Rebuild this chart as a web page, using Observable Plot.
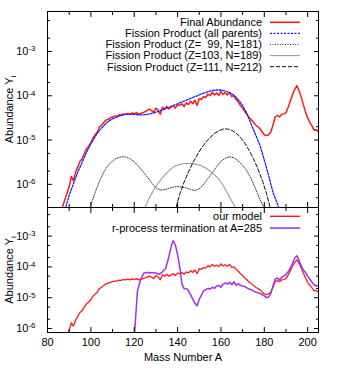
<!DOCTYPE html>
<html><head><meta charset="utf-8">
<script src="https://cdn.jsdelivr.net/npm/d3@7"></script>
<script src="https://cdn.jsdelivr.net/npm/@observablehq/plot@0.6"></script>
<style>body{margin:0;background:#fff;} #chart svg{display:block;}</style>
</head><body><div id="chart"></div>
<script>
// [mass number A, log10 abundance]
const finalAbundance = [
[87,-6.50],[88,-6.35],[89,-6.20],[90,-6.05],[91,-5.82],[92,-5.92],[93,-5.72],[94,-5.60],[95,-5.48],[96,-5.42],[97,-5.30],[98,-5.20],[99,-5.14],[100,-5.06],[101,-4.95],[102,-4.88],[103,-4.82],[104,-4.70],[105,-4.66],[106,-4.60],[107,-4.55],[108,-4.53],[109,-4.50],[110,-4.48],[111,-4.46],[112,-4.46],[113,-4.43],[114,-4.44],[115,-4.41],[116,-4.42],[117,-4.40],[118,-4.42],[119,-4.39],[120,-4.41],[121,-4.38],[122,-4.42],[123,-4.40],[124,-4.38],[125,-4.36],[126,-4.33],[127,-4.30],[128,-4.33],[129,-4.38],[130,-4.28],[131,-4.32],[132,-4.42],[133,-4.26],[134,-4.30],[135,-4.24],[136,-4.30],[137,-4.26],[138,-4.22],[139,-4.28],[140,-4.20],[141,-4.22],[142,-4.18],[143,-4.24],[144,-4.16],[145,-4.20],[146,-4.12],[147,-4.18],[148,-4.10],[149,-4.22],[150,-4.06],[151,-4.08],[152,-4.02],[153,-4.04],[154,-3.96],[155,-4.00],[156,-3.92],[157,-3.98],[158,-3.94],[159,-3.99],[160,-3.90],[161,-3.97],[162,-3.93],[163,-3.98],[164,-3.92],[165,-4.02],[166,-4.00],[167,-4.08],[168,-4.14],[169,-4.22],[170,-4.28],[171,-4.36],[172,-4.42],[173,-4.50],[174,-4.54],[175,-4.60],[176,-4.66],[177,-4.70],[178,-4.74],[179,-4.82],[180,-4.88],[181,-4.90],[182,-4.88],[183,-4.82],[184,-4.66],[185,-4.48],[186,-4.44],[187,-4.48],[188,-4.42],[189,-4.41],[190,-4.38],[191,-4.26],[192,-4.12],[193,-3.98],[194,-3.86],[195,-3.77],[196,-3.88],[197,-4.02],[198,-4.20],[199,-4.36],[200,-4.50],[201,-4.60],[202,-4.68],[203,-4.78],[204,-4.76],[205,-4.82]
];
const fissionAll = [
[88.5,-6.51],[90,-6.25],[92,-5.98],[94,-5.72],[96,-5.50],[98,-5.28],[100,-5.08],[102,-4.92],[104,-4.78],[106,-4.67],[108,-4.58],[110,-4.52],[112,-4.48],[114,-4.44],[116,-4.42],[118,-4.42],[120,-4.42],[122,-4.43],[124,-4.43],[126,-4.42],[128,-4.40],[130,-4.37],[132,-4.34],[134,-4.30],[136,-4.26],[138,-4.22],[140,-4.18],[142,-4.14],[144,-4.10],[146,-4.06],[148,-4.02],[150,-3.98],[152,-3.94],[154,-3.91],[156,-3.88],[158,-3.87],[160,-3.87],[162,-3.89],[164,-3.93],[166,-3.99],[168,-4.09],[170,-4.22],[172,-4.40],[174,-4.65],[176,-4.88],[178,-5.12],[180,-5.45],[182,-5.80],[184,-6.18],[186.6,-6.51]
];
const fissionZ99 = [
[99.7,-6.51],[102,-6.18],[104,-5.93],[106,-5.72],[108,-5.57],[110,-5.47],[112,-5.41],[114,-5.38],[116,-5.38],[118,-5.42],[120,-5.49],[122,-5.59],[124,-5.71],[126,-5.83],[128,-5.96],[130,-6.08],[132,-6.13],[134,-6.12],[136,-6.09],[138,-6.06],[140,-6.05],[142,-6.06],[144,-6.08],[146,-6.12],[148,-6.14],[150,-6.10],[152,-6.00],[154,-5.87],[156,-5.74],[158,-5.60],[160,-5.48],[162,-5.41],[164,-5.38],[166,-5.40],[168,-5.47],[170,-5.57],[172,-5.70],[174,-5.88],[176,-6.10],[178,-6.34],[179.7,-6.51]
];
const fissionZ103 = [
[125.1,-6.51],[127,-6.30],[129,-6.12],[131,-5.98],[133,-5.85],[135,-5.74],[137,-5.65],[139,-5.58],[141,-5.55],[143,-5.53],[145,-5.53],[147,-5.53],[149,-5.55],[151,-5.58],[153,-5.63],[155,-5.70],[157,-5.78],[159,-5.88],[161,-6.02],[163,-6.20],[165,-6.38],[166.6,-6.51]
];
const fissionZ111 = [
[139.4,-6.51],[141,-6.22],[143,-5.95],[145,-5.72],[147,-5.52],[149,-5.34],[151,-5.18],[153,-5.05],[155,-4.94],[157,-4.85],[159,-4.79],[161,-4.75],[163,-4.75],[165,-4.78],[167,-4.84],[169,-4.94],[171,-5.07],[173,-5.23],[175,-5.42],[177,-5.64],[179,-5.90],[181,-6.20],[182.6,-6.51]
];
const terminationA285 = [
[119.8,-6.50],[121.5,-4.78],[123,-4.40],[124.5,-4.20],[126,-4.18],[128,-4.19],[130,-4.20],[131.5,-4.24],[133,-4.16],[134.5,-4.05],[136,-3.66],[137.5,-3.22],[138,-3.15],[139,-3.30],[140,-3.60],[141,-4.00],[142,-4.55],[143,-4.70],[144.5,-4.72],[146,-4.90],[147,-5.05],[148,-5.18],[149,-5.26],[150,-5.05],[151,-4.92],[152,-4.78],[153,-4.74],[154,-4.70],[155,-4.72],[156,-4.66],[157,-4.70],[158,-4.62],[159,-4.60],[160,-4.66],[161,-4.56],[162,-4.52],[163,-4.56],[164,-4.50],[165,-4.58],[166,-4.48],[167,-4.60],[168,-4.54],[169,-4.60],[170,-4.62],[171,-4.64],[172,-4.68],[173,-4.72],[174,-4.74],[175,-4.78],[176,-4.82],[177,-4.84],[178,-4.86],[179,-4.90],[180,-4.94],[181,-5.00],[182,-4.98],[183,-4.86],[184,-4.62],[185,-4.40],[186,-4.36],[187,-4.42],[188,-4.34],[189,-4.30],[190,-4.24],[191,-4.16],[192,-4.04],[193,-3.88],[194,-3.72],[195,-3.64],[196,-3.78],[197,-3.96],[198,-4.10],[199,-4.18],[200,-4.30],[201,-4.40],[202,-4.50],[203,-4.58],[204,-4.62],[205,-4.60]
];

const xMajorTicks = [80,100,120,140,160,180,200];
const xMinorTicks = [90,110,130,150,170,190];
const yMajorTicks = [1e-6,1e-5,1e-4,1e-3];
const yMinorTicks = [5e-7,2e-6,5e-6,2e-5,5e-5,2e-4,5e-4,2e-3,5e-3];

const topLegend = [
  {label:"Final Abundance", stroke:"#ff1a1a", width:1.6, dash:null},
  {label:"Fission Product (all parents)", stroke:"#1a1aff", width:1.3, dash:"2,1.5"},
  {label:"Fission Product (Z=\u00a0 99, N=181)", stroke:"#333", width:1, dash:"1,1.5"},
  {label:"Fission Product (Z=103, N=189)", stroke:"#999", width:1.1, dash:null},
  {label:"Fission Product (Z=111, N=212)", stroke:"#111", width:1, dash:"4,2"}
];
const bottomLegend = [
  {label:"our model", stroke:"#ff1a1a", width:1.4, dash:null},
  {label:"r-process termination at A=285", stroke:"#a030f0", width:1.6, dash:null}
];

const rows = (pairs) => pairs.map(([A, lg]) => ({A, Y: Math.pow(10, lg)}));
const FONT = "'Liberation Sans', Arial, Helvetica, sans-serif";

function axes(yDomain) {
  const minor = yMinorTicks.filter(v => v > yDomain[0] && v < yDomain[1]);
  return [
    Plot.axisX(xMajorTicks, {anchor:"bottom", tickSize:-5, fill:"none", label:null}),
    Plot.axisX(xMinorTicks, {anchor:"bottom", tickSize:-3, fill:"none", label:null}),
    Plot.axisX(xMajorTicks, {anchor:"top", tickSize:-5, fill:"none", label:null}),
    Plot.axisX(xMinorTicks, {anchor:"top", tickSize:-3, fill:"none", label:null}),
    Plot.axisY(yMajorTicks, {anchor:"left", tickSize:-5, fill:"none", label:null}),
    Plot.axisY(minor, {anchor:"left", tickSize:-3, fill:"none", label:null}),
    Plot.axisY(yMajorTicks, {anchor:"right", tickSize:-5, fill:"none", label:null}),
    Plot.axisY(minor, {anchor:"right", tickSize:-3, fill:"none", label:null}),
    Plot.axisY(yMajorTicks, {anchor:"left", tickSize:0, tickPadding:12, label:null,
      tickFormat: d => "10^" + Math.round(Math.log10(d))}),
    Plot.text(["Abundance Y_i"], {frameAnchor:"left", textAnchor:"middle", dx:-38, rotate:-90, fontSize:11}),
    Plot.frame({stroke:"#000", strokeWidth:1})
  ];
}

const lineOpts = (stroke, w, dash) => ({x:"A", y:"Y", stroke, strokeWidth:w, strokeDasharray:dash, clip:true});

const topDomain = [3e-7, 8e-3];
const topPlot = Plot.plot({
  width:338, height:207, marginTop:11, marginBottom:0, marginLeft:47, marginRight:20,
  style:{fontFamily:FONT, fontSize:"11px", color:"#000", background:"#fff"},
  x:{domain:[80,205]},
  y:{type:"log", domain:topDomain},
  marks:[
    Plot.line(rows(fissionZ99), lineOpts("#333", 1, "1,1.5")),
    Plot.line(rows(fissionZ103), lineOpts("#999", 1.1, null)),
    Plot.line(rows(fissionZ111), lineOpts("#111", 1, "4,2")),
    Plot.line(rows(finalAbundance), lineOpts("#ff1a1a", 1.5, null)),
    Plot.line(rows(fissionAll), lineOpts("#1a1aff", 1.3, "2,1.5")),
    ...axes(topDomain)
  ]
});

const botDomain = [7.4e-7, 8.5e-3];
const botPlot = Plot.plot({
  width:338, height:170, marginTop:0, marginBottom:45, marginLeft:47, marginRight:20,
  style:{fontFamily:FONT, fontSize:"11px", color:"#000", background:"#fff"},
  x:{domain:[80,205]},
  y:{type:"log", domain:botDomain},
  marks:[
    Plot.line(rows(finalAbundance), lineOpts("#ff1a1a", 1.3, null)),
    Plot.line(rows(terminationA285), lineOpts("#a030f0", 1.5, null)),
    Plot.axisX(xMajorTicks, {anchor:"bottom", tickSize:0, tickPadding:6, label:null}),
    ...axes(botDomain),
    Plot.text(["Mass Number A"], {frameAnchor:"bottom", dy:28, fontSize:11})
  ]
});

function fixText(svg) {
  d3.select(svg).selectAll("text").each(function() {
    const t = this.textContent;
    if (t.includes("^")) {
      const [b, e] = t.split("^");
      this.textContent = b;
      d3.select(this).append("tspan").attr("dy", "-0.45em").attr("font-size", "8").text(e);
    } else if (t.includes("_")) {
      const [b, e] = t.split("_");
      this.textContent = b;
      d3.select(this).append("tspan").attr("dy", "0.35em").attr("font-size", "8").text(e);
    }
  });
}
function addLegend(svg, items, y0, step) {
  const g = d3.select(svg).append("g").attr("font-family", FONT).attr("font-size", 11);
  items.forEach((it, i) => {
    const y = y0 + i * step;
    g.append("text").attr("x", 262).attr("y", y).attr("dy", "0.35em").attr("text-anchor", "end").attr("fill", "#000").text(it.label);
    const l = g.append("line").attr("x1", 270).attr("x2", 300).attr("y1", y).attr("y2", y)
      .attr("stroke", it.stroke).attr("stroke-width", it.width);
    if (it.dash) l.attr("stroke-dasharray", it.dash);
  });
}
fixText(topPlot); fixText(botPlot);
addLegend(topPlot, topLegend, 22.3, 11.1);
addLegend(botPlot, bottomLegend, 9.3, 11.8);
document.getElementById("chart").append(topPlot, botPlot);
</script>
</body></html>
